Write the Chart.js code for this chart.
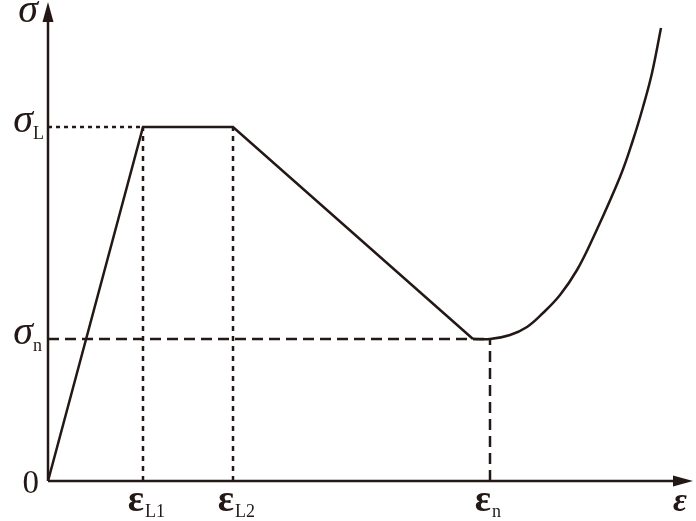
<!DOCTYPE html>
<html>
<head>
<meta charset="utf-8">
<script src="https://cdn.jsdelivr.net/npm/chart.js@4.4.1/dist/chart.umd.min.js"></script>
<style>
html,body{margin:0;padding:0;background:#fff;}
#wrap{width:696px;height:521px;position:relative;}
</style>
</head>
<body>
<div id="wrap"><canvas id="c" width="696" height="521"></canvas></div>
<script>
// ---- data (strain ε on x, stress σ on y, arbitrary units) ----
const epsL1 = 95;
const epsL2 = 185;
const epsN = 442;
const sigL = 354;
const sigN = 142;
// piecewise-linear part: origin -> σL plateau -> descending branch
const linearX = [0, epsL1, epsL2, 425];
const linearY = [0, sigL, sigL, sigN];
// hardening curve after ε_n
const curveX = [425, 442, 462, 479, 495, 512, 529, 545, 572, 585, 595, 604, 613];
const curveY = [142, 142, 146, 154, 168, 186, 211, 243, 304, 341, 374, 408, 453];
// labels
const xTickValues = [epsL1, epsL2, epsN];
const xTickSubs = ['L1', 'L2', 'n'];
const yTickValues = [sigL, sigN];
const yTickSubs = ['L', 'n'];
const xAxisLabel = 'ε';
const yAxisLabel = 'σ';
const originLabel = '0';

const INK = '#231815';
const pts = (xs, ys) => xs.map((x, i) => ({x, y: ys[i]}));

const overlay = {
  id: 'overlay',
  afterDraw(chart) {
    const {ctx, chartArea: a, scales: {x, y}} = chart;
    const x0 = x.getPixelForValue(0), y0 = y.getPixelForValue(0);
    ctx.save();
    ctx.strokeStyle = INK; ctx.fillStyle = INK; ctx.lineWidth = 2.5;
    // axes
    ctx.beginPath();
    ctx.moveTo(x0, y0); ctx.lineTo(a.right - 10, y0);
    ctx.moveTo(x0, y0); ctx.lineTo(x0, a.top + 10);
    ctx.stroke();
    // arrow heads
    ctx.beginPath();
    ctx.moveTo(a.right, y0); ctx.lineTo(a.right - 20, y0 - 5.5); ctx.lineTo(a.right - 20, y0 + 5.5); ctx.closePath();
    ctx.fill();
    ctx.beginPath();
    ctx.moveTo(x0, a.top); ctx.lineTo(x0 - 5.5, a.top + 20); ctx.lineTo(x0 + 5.5, a.top + 20); ctx.closePath();
    ctx.fill();

    ctx.textBaseline = 'alphabetic';
    // x tick labels: ε with subscripts
    xTickValues.forEach((v, i) => {
      const px = x.getPixelForValue(v);
      ctx.font = 'bold 38px "Liberation Serif"';
      ctx.textAlign = 'right';
      ctx.fillText('ε', px + 1, 511);
      ctx.font = '18px "Liberation Serif"';
      ctx.textAlign = 'left';
      ctx.fillText(xTickSubs[i], px + 2, 517);
    });
    // y tick labels: σ with subscripts
    yTickValues.forEach((v, i) => {
      const py = y.getPixelForValue(v);
      ctx.font = 'italic 40px "Liberation Serif"';
      ctx.textAlign = 'right';
      ctx.fillText('σ', 33, py + 5);
      ctx.font = '18px "Liberation Serif"';
      ctx.textAlign = 'left';
      ctx.fillText(yTickSubs[i], 33, py + 12);
    });
    // origin
    ctx.font = '33px "Liberation Serif"';
    ctx.textAlign = 'right';
    ctx.fillText(originLabel, 39, y0 + 12);
    // axis titles
    ctx.font = 'italic bold 34px "Liberation Serif"';
    ctx.textAlign = 'center';
    ctx.fillText(xAxisLabel, a.right - 13, 511);
    ctx.font = 'italic 40px "Liberation Serif"';
    ctx.fillText(yAxisLabel, 28, 22);
    ctx.restore();
  }
};

const refStyle = (dash) => ({borderColor: INK, borderWidth: 2.5, borderDash: dash, pointRadius: 0, tension: 0, fill: false});

new Chart(document.getElementById('c'), {
  type: 'scatter',
  data: {
    datasets: [
      Object.assign({data: [{x: 0, y: sigL}, {x: epsL1, y: sigL}]}, refStyle([4, 4])),
      Object.assign({data: [{x: epsL1, y: 0}, {x: epsL1, y: sigL}]}, refStyle([5, 5])),
      Object.assign({data: [{x: epsL2, y: 0}, {x: epsL2, y: sigL}]}, refStyle([5, 5])),
      Object.assign({data: [{x: 0, y: sigN}, {x: epsN, y: sigN}]}, refStyle([11, 6])),
      Object.assign({data: [{x: epsN, y: 0}, {x: epsN, y: sigN}]}, refStyle([11, 6])),
      {data: pts(linearX, linearY), borderColor: INK, borderWidth: 2.5, pointRadius: 0, tension: 0},
      {data: pts(curveX, curveY), borderColor: INK, borderWidth: 2.5, pointRadius: 0, tension: 0.4}
    ].map(d => Object.assign({showLine: true}, d))
  },
  options: {
    responsive: false,
    animation: false,
    events: [],
    layout: {padding: {left: 48, right: 3, top: 2, bottom: 40}},
    plugins: {legend: {display: false}, tooltip: {enabled: false}},
    scales: {
      x: {type: 'linear', min: 0, max: 645, display: false},
      y: {type: 'linear', min: 0, max: 479, display: false}
    }
  },
  plugins: [overlay]
});
</script>
</body>
</html>
